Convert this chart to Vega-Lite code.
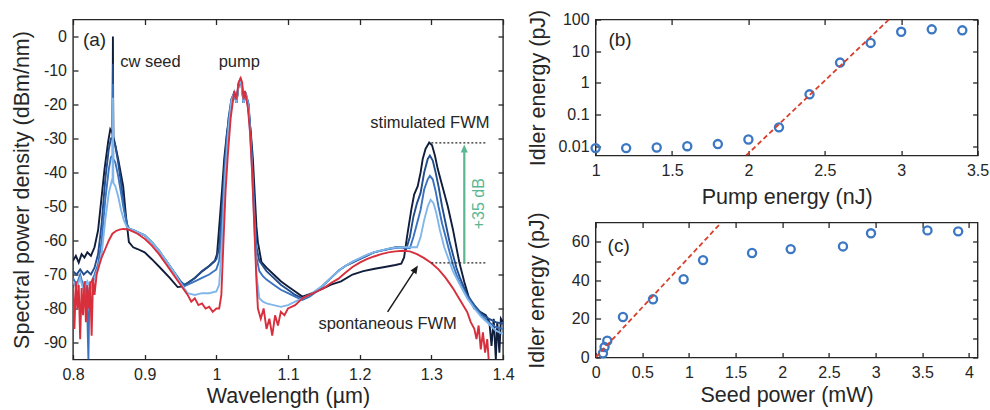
{
"$schema":"https://vega.github.io/schema/vega-lite/v6.json",
"padding":{"left":10,"top":8.5,"right":5,"bottom":5},
"config":{"font":"Liberation Sans","view":{"stroke":"#262626","strokeWidth":1.4},
"axis":{"domain":false,"grid":false,"tickSize":-5,"tickColor":"#262626","tickWidth":1.3,"labelFont":"Liberation Sans","labelFontSize":16,"labelColor":"#262626","titleFont":"Liberation Sans","titleFontSize":21.5,"titleFontWeight":"normal","titleColor":"#262626","labelFlush":false,"labelOverlap":false},
"axisBottom":{"labelPadding":12},"axisLeft":{"labelPadding":11.5}},
"datasets":{
"spectra":[
{"s":"high seed","x":0.800,"y":-66},{"s":"high seed","x":0.804,"y":-64.5},{"s":"high seed","x":0.808,"y":-66.5},{"s":"high seed","x":0.812,"y":-64},{"s":"high seed","x":0.816,"y":-65},{"s":"high seed","x":0.820,"y":-63.5},{"s":"high seed","x":0.825,"y":-64.5},{"s":"high seed","x":0.830,"y":-62},{"s":"high seed","x":0.835,"y":-57},{"s":"high seed","x":0.839,"y":-49},{"s":"high seed","x":0.844,"y":-39},{"s":"high seed","x":0.849,"y":-31},{"s":"high seed","x":0.852,"y":-27.3},{"s":"high seed","x":0.8552,"y":-28.5},{"s":"high seed","x":0.8557,"y":0},{"s":"high seed","x":0.8562,"y":-29.5},{"s":"high seed","x":0.858,"y":-31},{"s":"high seed","x":0.863,"y":-36},{"s":"high seed","x":0.870,"y":-44},{"s":"high seed","x":0.874,"y":-53},{"s":"high seed","x":0.878,"y":-60.5},{"s":"high seed","x":0.884,"y":-62},{"s":"high seed","x":0.890,"y":-62.5},{"s":"high seed","x":0.900,"y":-63.5},{"s":"high seed","x":0.910,"y":-65.5},{"s":"high seed","x":0.923,"y":-68.3},{"s":"high seed","x":0.935,"y":-71},{"s":"high seed","x":0.946,"y":-73.7},{"s":"high seed","x":0.953,"y":-73.5},{"s":"high seed","x":0.960,"y":-72.5},{"s":"high seed","x":0.970,"y":-71},{"s":"high seed","x":0.979,"y":-69.3},{"s":"high seed","x":0.990,"y":-67.5},{"s":"high seed","x":0.998,"y":-66},{"s":"high seed","x":1.001,"y":-64},{"s":"high seed","x":1.004,"y":-56},{"s":"high seed","x":1.008,"y":-45},{"s":"high seed","x":1.011,"y":-36},{"s":"high seed","x":1.015,"y":-28},{"s":"high seed","x":1.019,"y":-23},{"s":"high seed","x":1.023,"y":-18},{"s":"high seed","x":1.025,"y":-16.5},{"s":"high seed","x":1.028,"y":-19.5},{"s":"high seed","x":1.031,"y":-14.5},{"s":"high seed","x":1.034,"y":-13},{"s":"high seed","x":1.036,"y":-14.5},{"s":"high seed","x":1.038,"y":-19.5},{"s":"high seed","x":1.040,"y":-16.5},{"s":"high seed","x":1.044,"y":-20},{"s":"high seed","x":1.048,"y":-28},{"s":"high seed","x":1.051,"y":-36},{"s":"high seed","x":1.054,"y":-48},{"s":"high seed","x":1.056,"y":-56},{"s":"high seed","x":1.058,"y":-60.5},{"s":"high seed","x":1.063,"y":-66.4},{"s":"high seed","x":1.070,"y":-68},{"s":"high seed","x":1.080,"y":-70},{"s":"high seed","x":1.090,"y":-72},{"s":"high seed","x":1.100,"y":-73.5},{"s":"high seed","x":1.110,"y":-75},{"s":"high seed","x":1.120,"y":-76.5},{"s":"high seed","x":1.130,"y":-75.8},{"s":"high seed","x":1.140,"y":-75},{"s":"high seed","x":1.150,"y":-74},{"s":"high seed","x":1.160,"y":-73},{"s":"high seed","x":1.174,"y":-72},{"s":"high seed","x":1.190,"y":-70},{"s":"high seed","x":1.205,"y":-69},{"s":"high seed","x":1.221,"y":-68.3},{"s":"high seed","x":1.235,"y":-67.8},{"s":"high seed","x":1.250,"y":-67.2},{"s":"high seed","x":1.258,"y":-66.8},{"s":"high seed","x":1.262,"y":-65},{"s":"high seed","x":1.266,"y":-59},{"s":"high seed","x":1.272,"y":-51},{"s":"high seed","x":1.276,"y":-46.5},{"s":"high seed","x":1.281,"y":-44},{"s":"high seed","x":1.285,"y":-40},{"s":"high seed","x":1.288,"y":-36},{"s":"high seed","x":1.292,"y":-33},{"s":"high seed","x":1.297,"y":-31.2},{"s":"high seed","x":1.301,"y":-32},{"s":"high seed","x":1.305,"y":-35},{"s":"high seed","x":1.309,"y":-39},{"s":"high seed","x":1.316,"y":-44.5},{"s":"high seed","x":1.323,"y":-50},{"s":"high seed","x":1.330,"y":-56.6},{"s":"high seed","x":1.339,"y":-66.4},{"s":"high seed","x":1.346,"y":-72.2},{"s":"high seed","x":1.352,"y":-76.5},{"s":"high seed","x":1.360,"y":-80},{"s":"high seed","x":1.368,"y":-81},{"s":"high seed","x":1.376,"y":-82},{"s":"high seed","x":1.381,"y":-84},{"s":"high seed","x":1.384,"y":-91},{"s":"high seed","x":1.387,"y":-83},{"s":"high seed","x":1.390,"y":-95},{"s":"high seed","x":1.392,"y":-84},{"s":"high seed","x":1.395,"y":-93},{"s":"high seed","x":1.397,"y":-83},{"s":"high seed","x":1.400,"y":-84},
{"s":"seed 3","x":0.800,"y":-69},{"s":"seed 3","x":0.805,"y":-70},{"s":"seed 3","x":0.810,"y":-68.5},{"s":"seed 3","x":0.815,"y":-70},{"s":"seed 3","x":0.820,"y":-69},{"s":"seed 3","x":0.825,"y":-70},{"s":"seed 3","x":0.830,"y":-68},{"s":"seed 3","x":0.835,"y":-64},{"s":"seed 3","x":0.840,"y":-55},{"s":"seed 3","x":0.845,"y":-42},{"s":"seed 3","x":0.850,"y":-33},{"s":"seed 3","x":0.853,"y":-30},{"s":"seed 3","x":0.8552,"y":-30},{"s":"seed 3","x":0.8557,"y":-8},{"s":"seed 3","x":0.8562,"y":-31},{"s":"seed 3","x":0.859,"y":-32},{"s":"seed 3","x":0.863,"y":-37},{"s":"seed 3","x":0.867,"y":-43},{"s":"seed 3","x":0.871,"y":-50},{"s":"seed 3","x":0.875,"y":-55},{"s":"seed 3","x":0.878,"y":-56.5},{"s":"seed 3","x":0.885,"y":-57},{"s":"seed 3","x":0.890,"y":-57.5},{"s":"seed 3","x":0.900,"y":-58.5},{"s":"seed 3","x":0.910,"y":-60.5},{"s":"seed 3","x":0.920,"y":-63},{"s":"seed 3","x":0.930,"y":-66},{"s":"seed 3","x":0.940,"y":-69},{"s":"seed 3","x":0.950,"y":-72},{"s":"seed 3","x":0.955,"y":-73},{"s":"seed 3","x":0.960,"y":-72.5},{"s":"seed 3","x":0.970,"y":-71},{"s":"seed 3","x":0.980,"y":-69},{"s":"seed 3","x":0.990,"y":-67.5},{"s":"seed 3","x":1.000,"y":-65.5},{"s":"seed 3","x":1.004,"y":-62},{"s":"seed 3","x":1.008,"y":-50},{"s":"seed 3","x":1.012,"y":-36},{"s":"seed 3","x":1.017,"y":-24},{"s":"seed 3","x":1.021,"y":-18.5},{"s":"seed 3","x":1.025,"y":-16.5},{"s":"seed 3","x":1.028,"y":-19.5},{"s":"seed 3","x":1.031,"y":-14},{"s":"seed 3","x":1.033,"y":-13},{"s":"seed 3","x":1.035,"y":-14},{"s":"seed 3","x":1.038,"y":-19.5},{"s":"seed 3","x":1.041,"y":-17},{"s":"seed 3","x":1.045,"y":-20},{"s":"seed 3","x":1.049,"y":-32},{"s":"seed 3","x":1.053,"y":-50},{"s":"seed 3","x":1.056,"y":-62},{"s":"seed 3","x":1.060,"y":-66},{"s":"seed 3","x":1.065,"y":-67.5},{"s":"seed 3","x":1.070,"y":-69},{"s":"seed 3","x":1.080,"y":-71},{"s":"seed 3","x":1.090,"y":-73},{"s":"seed 3","x":1.100,"y":-74.5},{"s":"seed 3","x":1.110,"y":-76},{"s":"seed 3","x":1.120,"y":-77},{"s":"seed 3","x":1.130,"y":-76},{"s":"seed 3","x":1.140,"y":-75},{"s":"seed 3","x":1.150,"y":-73},{"s":"seed 3","x":1.160,"y":-71},{"s":"seed 3","x":1.170,"y":-69},{"s":"seed 3","x":1.180,"y":-67.5},{"s":"seed 3","x":1.190,"y":-66.5},{"s":"seed 3","x":1.200,"y":-65.5},{"s":"seed 3","x":1.210,"y":-64.5},{"s":"seed 3","x":1.220,"y":-63.5},{"s":"seed 3","x":1.230,"y":-63},{"s":"seed 3","x":1.240,"y":-62.5},{"s":"seed 3","x":1.250,"y":-62},{"s":"seed 3","x":1.260,"y":-62},{"s":"seed 3","x":1.265,"y":-62.5},{"s":"seed 3","x":1.270,"y":-59},{"s":"seed 3","x":1.275,"y":-53},{"s":"seed 3","x":1.280,"y":-49},{"s":"seed 3","x":1.285,"y":-46},{"s":"seed 3","x":1.290,"y":-40},{"s":"seed 3","x":1.295,"y":-36},{"s":"seed 3","x":1.298,"y":-35},{"s":"seed 3","x":1.302,"y":-36.5},{"s":"seed 3","x":1.306,"y":-40},{"s":"seed 3","x":1.310,"y":-44},{"s":"seed 3","x":1.315,"y":-50},{"s":"seed 3","x":1.320,"y":-55},{"s":"seed 3","x":1.325,"y":-60},{"s":"seed 3","x":1.330,"y":-64},{"s":"seed 3","x":1.335,"y":-68},{"s":"seed 3","x":1.340,"y":-71},{"s":"seed 3","x":1.350,"y":-76},{"s":"seed 3","x":1.360,"y":-79},{"s":"seed 3","x":1.370,"y":-81.5},{"s":"seed 3","x":1.380,"y":-83},{"s":"seed 3","x":1.390,"y":-84},{"s":"seed 3","x":1.400,"y":-84.5},
{"s":"seed 2","x":0.800,"y":-71},{"s":"seed 2","x":0.805,"y":-73},{"s":"seed 2","x":0.810,"y":-70},{"s":"seed 2","x":0.815,"y":-74},{"s":"seed 2","x":0.818,"y":-72},{"s":"seed 2","x":0.820,"y":-82},{"s":"seed 2","x":0.8215,"y":-95},{"s":"seed 2","x":0.823,"y":-74},{"s":"seed 2","x":0.826,"y":-72},{"s":"seed 2","x":0.830,"y":-70},{"s":"seed 2","x":0.835,"y":-67},{"s":"seed 2","x":0.840,"y":-60},{"s":"seed 2","x":0.845,"y":-48},{"s":"seed 2","x":0.850,"y":-39},{"s":"seed 2","x":0.853,"y":-35.5},{"s":"seed 2","x":0.8552,"y":-35},{"s":"seed 2","x":0.8557,"y":-14},{"s":"seed 2","x":0.8562,"y":-36},{"s":"seed 2","x":0.859,"y":-37},{"s":"seed 2","x":0.863,"y":-41},{"s":"seed 2","x":0.867,"y":-46},{"s":"seed 2","x":0.871,"y":-51},{"s":"seed 2","x":0.875,"y":-55},{"s":"seed 2","x":0.878,"y":-56.5},{"s":"seed 2","x":0.885,"y":-57},{"s":"seed 2","x":0.890,"y":-57.5},{"s":"seed 2","x":0.900,"y":-58.5},{"s":"seed 2","x":0.910,"y":-60.5},{"s":"seed 2","x":0.920,"y":-63},{"s":"seed 2","x":0.930,"y":-66},{"s":"seed 2","x":0.940,"y":-69},{"s":"seed 2","x":0.950,"y":-72},{"s":"seed 2","x":0.955,"y":-73.5},{"s":"seed 2","x":0.960,"y":-73},{"s":"seed 2","x":0.970,"y":-72},{"s":"seed 2","x":0.980,"y":-71},{"s":"seed 2","x":0.990,"y":-70},{"s":"seed 2","x":1.000,"y":-68.5},{"s":"seed 2","x":1.004,"y":-66},{"s":"seed 2","x":1.008,"y":-55},{"s":"seed 2","x":1.012,"y":-38},{"s":"seed 2","x":1.017,"y":-25},{"s":"seed 2","x":1.021,"y":-18.5},{"s":"seed 2","x":1.025,"y":-16.5},{"s":"seed 2","x":1.028,"y":-19.5},{"s":"seed 2","x":1.031,"y":-14},{"s":"seed 2","x":1.033,"y":-12.8},{"s":"seed 2","x":1.035,"y":-14},{"s":"seed 2","x":1.038,"y":-19.5},{"s":"seed 2","x":1.041,"y":-16.5},{"s":"seed 2","x":1.045,"y":-20},{"s":"seed 2","x":1.049,"y":-34},{"s":"seed 2","x":1.053,"y":-52},{"s":"seed 2","x":1.056,"y":-65},{"s":"seed 2","x":1.060,"y":-69},{"s":"seed 2","x":1.065,"y":-70.5},{"s":"seed 2","x":1.070,"y":-71.5},{"s":"seed 2","x":1.080,"y":-73},{"s":"seed 2","x":1.090,"y":-74.5},{"s":"seed 2","x":1.100,"y":-75.5},{"s":"seed 2","x":1.110,"y":-76.5},{"s":"seed 2","x":1.120,"y":-77.5},{"s":"seed 2","x":1.130,"y":-76.5},{"s":"seed 2","x":1.140,"y":-75},{"s":"seed 2","x":1.150,"y":-73},{"s":"seed 2","x":1.160,"y":-71},{"s":"seed 2","x":1.170,"y":-69},{"s":"seed 2","x":1.180,"y":-67.5},{"s":"seed 2","x":1.190,"y":-66.3},{"s":"seed 2","x":1.200,"y":-65.3},{"s":"seed 2","x":1.210,"y":-64.3},{"s":"seed 2","x":1.220,"y":-63.5},{"s":"seed 2","x":1.230,"y":-63},{"s":"seed 2","x":1.240,"y":-62.5},{"s":"seed 2","x":1.250,"y":-62.2},{"s":"seed 2","x":1.260,"y":-62},{"s":"seed 2","x":1.270,"y":-62.3},{"s":"seed 2","x":1.275,"y":-59},{"s":"seed 2","x":1.280,"y":-55},{"s":"seed 2","x":1.285,"y":-51},{"s":"seed 2","x":1.290,"y":-45},{"s":"seed 2","x":1.295,"y":-42},{"s":"seed 2","x":1.298,"y":-41},{"s":"seed 2","x":1.302,"y":-42},{"s":"seed 2","x":1.306,"y":-45.5},{"s":"seed 2","x":1.310,"y":-50},{"s":"seed 2","x":1.315,"y":-55},{"s":"seed 2","x":1.320,"y":-59},{"s":"seed 2","x":1.325,"y":-63},{"s":"seed 2","x":1.330,"y":-67},{"s":"seed 2","x":1.335,"y":-70},{"s":"seed 2","x":1.340,"y":-72.5},{"s":"seed 2","x":1.350,"y":-76.5},{"s":"seed 2","x":1.360,"y":-79.5},{"s":"seed 2","x":1.370,"y":-82},{"s":"seed 2","x":1.380,"y":-84},{"s":"seed 2","x":1.390,"y":-85.5},{"s":"seed 2","x":1.400,"y":-86},
{"s":"low seed","x":0.800,"y":-72},{"s":"low seed","x":0.805,"y":-74},{"s":"low seed","x":0.810,"y":-71},{"s":"low seed","x":0.815,"y":-75},{"s":"low seed","x":0.820,"y":-72},{"s":"low seed","x":0.825,"y":-74},{"s":"low seed","x":0.830,"y":-71},{"s":"low seed","x":0.835,"y":-68},{"s":"low seed","x":0.840,"y":-64},{"s":"low seed","x":0.845,"y":-54},{"s":"low seed","x":0.850,"y":-46},{"s":"low seed","x":0.854,"y":-42.5},{"s":"low seed","x":0.8552,"y":-43},{"s":"low seed","x":0.8557,"y":-18},{"s":"low seed","x":0.8562,"y":-43},{"s":"low seed","x":0.859,"y":-44},{"s":"low seed","x":0.863,"y":-47},{"s":"low seed","x":0.867,"y":-51},{"s":"low seed","x":0.871,"y":-54},{"s":"low seed","x":0.875,"y":-56},{"s":"low seed","x":0.878,"y":-56.5},{"s":"low seed","x":0.885,"y":-57},{"s":"low seed","x":0.890,"y":-57.5},{"s":"low seed","x":0.900,"y":-58.5},{"s":"low seed","x":0.910,"y":-60.5},{"s":"low seed","x":0.920,"y":-63},{"s":"low seed","x":0.930,"y":-66},{"s":"low seed","x":0.940,"y":-69},{"s":"low seed","x":0.950,"y":-72.5},{"s":"low seed","x":0.955,"y":-74},{"s":"low seed","x":0.960,"y":-75.5},{"s":"low seed","x":0.970,"y":-76},{"s":"low seed","x":0.980,"y":-75.5},{"s":"low seed","x":0.990,"y":-75.5},{"s":"low seed","x":1.000,"y":-75},{"s":"low seed","x":1.004,"y":-73},{"s":"low seed","x":1.008,"y":-60},{"s":"low seed","x":1.012,"y":-42},{"s":"low seed","x":1.017,"y":-27},{"s":"low seed","x":1.021,"y":-19},{"s":"low seed","x":1.025,"y":-16.5},{"s":"low seed","x":1.028,"y":-19.5},{"s":"low seed","x":1.031,"y":-14},{"s":"low seed","x":1.033,"y":-12.8},{"s":"low seed","x":1.035,"y":-14},{"s":"low seed","x":1.038,"y":-19.5},{"s":"low seed","x":1.041,"y":-16.5},{"s":"low seed","x":1.045,"y":-21},{"s":"low seed","x":1.049,"y":-36},{"s":"low seed","x":1.053,"y":-55},{"s":"low seed","x":1.056,"y":-70},{"s":"low seed","x":1.060,"y":-77},{"s":"low seed","x":1.065,"y":-78},{"s":"low seed","x":1.070,"y":-78.5},{"s":"low seed","x":1.080,"y":-79},{"s":"low seed","x":1.090,"y":-79.5},{"s":"low seed","x":1.100,"y":-79},{"s":"low seed","x":1.110,"y":-78},{"s":"low seed","x":1.120,"y":-77},{"s":"low seed","x":1.130,"y":-76},{"s":"low seed","x":1.140,"y":-74.5},{"s":"low seed","x":1.150,"y":-73},{"s":"low seed","x":1.160,"y":-71},{"s":"low seed","x":1.170,"y":-69},{"s":"low seed","x":1.180,"y":-67.5},{"s":"low seed","x":1.190,"y":-66.2},{"s":"low seed","x":1.200,"y":-65.2},{"s":"low seed","x":1.210,"y":-64.2},{"s":"low seed","x":1.220,"y":-63.4},{"s":"low seed","x":1.230,"y":-62.9},{"s":"low seed","x":1.240,"y":-62.4},{"s":"low seed","x":1.250,"y":-62.1},{"s":"low seed","x":1.260,"y":-62},{"s":"low seed","x":1.270,"y":-62},{"s":"low seed","x":1.280,"y":-62},{"s":"low seed","x":1.285,"y":-59},{"s":"low seed","x":1.290,"y":-54},{"s":"low seed","x":1.295,"y":-50},{"s":"low seed","x":1.299,"y":-48},{"s":"low seed","x":1.303,"y":-49},{"s":"low seed","x":1.307,"y":-52},{"s":"low seed","x":1.312,"y":-57},{"s":"low seed","x":1.318,"y":-62},{"s":"low seed","x":1.325,"y":-66},{"s":"low seed","x":1.330,"y":-69},{"s":"low seed","x":1.340,"y":-73},{"s":"low seed","x":1.350,"y":-77},{"s":"low seed","x":1.360,"y":-80},{"s":"low seed","x":1.370,"y":-82.5},{"s":"low seed","x":1.380,"y":-84.5},{"s":"low seed","x":1.390,"y":-86.5},{"s":"low seed","x":1.400,"y":-87.5},
{"s":"no seed","x":0.800,"y":-74},{"s":"no seed","x":0.802,"y":-86},{"s":"no seed","x":0.804,"y":-72},{"s":"no seed","x":0.806,"y":-80},{"s":"no seed","x":0.808,"y":-73},{"s":"no seed","x":0.810,"y":-89},{"s":"no seed","x":0.812,"y":-74},{"s":"no seed","x":0.814,"y":-82},{"s":"no seed","x":0.816,"y":-72},{"s":"no seed","x":0.818,"y":-84},{"s":"no seed","x":0.820,"y":-73},{"s":"no seed","x":0.822,"y":-80},{"s":"no seed","x":0.824,"y":-72},{"s":"no seed","x":0.826,"y":-88},{"s":"no seed","x":0.828,"y":-71},{"s":"no seed","x":0.830,"y":-76},{"s":"no seed","x":0.833,"y":-70},{"s":"no seed","x":0.837,"y":-67},{"s":"no seed","x":0.840,"y":-65},{"s":"no seed","x":0.845,"y":-62.5},{"s":"no seed","x":0.850,"y":-60},{"s":"no seed","x":0.855,"y":-58},{"s":"no seed","x":0.860,"y":-57.2},{"s":"no seed","x":0.865,"y":-56.8},{"s":"no seed","x":0.870,"y":-56.6},{"s":"no seed","x":0.875,"y":-56.7},{"s":"no seed","x":0.880,"y":-57},{"s":"no seed","x":0.890,"y":-58},{"s":"no seed","x":0.900,"y":-59.5},{"s":"no seed","x":0.910,"y":-61.5},{"s":"no seed","x":0.920,"y":-64},{"s":"no seed","x":0.930,"y":-67},{"s":"no seed","x":0.940,"y":-70},{"s":"no seed","x":0.950,"y":-73},{"s":"no seed","x":0.960,"y":-76},{"s":"no seed","x":0.965,"y":-78},{"s":"no seed","x":0.970,"y":-77},{"s":"no seed","x":0.975,"y":-79},{"s":"no seed","x":0.980,"y":-78.5},{"s":"no seed","x":0.985,"y":-80},{"s":"no seed","x":0.990,"y":-79.5},{"s":"no seed","x":0.995,"y":-81},{"s":"no seed","x":1.000,"y":-80},{"s":"no seed","x":1.004,"y":-80},{"s":"no seed","x":1.007,"y":-76},{"s":"no seed","x":1.010,"y":-60},{"s":"no seed","x":1.013,"y":-45},{"s":"no seed","x":1.016,"y":-35},{"s":"no seed","x":1.020,"y":-24},{"s":"no seed","x":1.025,"y":-16},{"s":"no seed","x":1.028,"y":-18.5},{"s":"no seed","x":1.031,"y":-13.5},{"s":"no seed","x":1.034,"y":-12.2},{"s":"no seed","x":1.036,"y":-13.5},{"s":"no seed","x":1.038,"y":-18.5},{"s":"no seed","x":1.040,"y":-16},{"s":"no seed","x":1.044,"y":-21},{"s":"no seed","x":1.047,"y":-28},{"s":"no seed","x":1.050,"y":-40},{"s":"no seed","x":1.053,"y":-56},{"s":"no seed","x":1.056,"y":-72},{"s":"no seed","x":1.058,"y":-80},{"s":"no seed","x":1.062,"y":-83},{"s":"no seed","x":1.066,"y":-80},{"s":"no seed","x":1.070,"y":-86},{"s":"no seed","x":1.074,"y":-83},{"s":"no seed","x":1.078,"y":-88},{"s":"no seed","x":1.082,"y":-82},{"s":"no seed","x":1.086,"y":-85},{"s":"no seed","x":1.090,"y":-81},{"s":"no seed","x":1.095,"y":-82},{"s":"no seed","x":1.100,"y":-80},{"s":"no seed","x":1.110,"y":-79},{"s":"no seed","x":1.120,"y":-77},{"s":"no seed","x":1.130,"y":-76},{"s":"no seed","x":1.140,"y":-75},{"s":"no seed","x":1.150,"y":-74},{"s":"no seed","x":1.160,"y":-72.5},{"s":"no seed","x":1.170,"y":-71.3},{"s":"no seed","x":1.180,"y":-69.5},{"s":"no seed","x":1.190,"y":-67.8},{"s":"no seed","x":1.200,"y":-66.5},{"s":"no seed","x":1.210,"y":-65.5},{"s":"no seed","x":1.220,"y":-64.7},{"s":"no seed","x":1.230,"y":-64},{"s":"no seed","x":1.240,"y":-63.5},{"s":"no seed","x":1.250,"y":-63.2},{"s":"no seed","x":1.260,"y":-63},{"s":"no seed","x":1.270,"y":-63.2},{"s":"no seed","x":1.280,"y":-64},{"s":"no seed","x":1.290,"y":-65.2},{"s":"no seed","x":1.300,"y":-66.6},{"s":"no seed","x":1.310,"y":-68.5},{"s":"no seed","x":1.320,"y":-71},{"s":"no seed","x":1.330,"y":-74},{"s":"no seed","x":1.340,"y":-77.5},{"s":"no seed","x":1.350,"y":-81},{"s":"no seed","x":1.355,"y":-84},{"s":"no seed","x":1.360,"y":-86},{"s":"no seed","x":1.363,"y":-89},{"s":"no seed","x":1.366,"y":-85},{"s":"no seed","x":1.369,"y":-92},{"s":"no seed","x":1.372,"y":-87},{"s":"no seed","x":1.375,"y":-93},{"s":"no seed","x":1.378,"y":-89},{"s":"no seed","x":1.380,"y":-95}
],
"pumpscan":[{"x":1.0,"y":0.0089},{"x":1.2,"y":0.0089},{"x":1.4,"y":0.0093},{"x":1.6,"y":0.0102},{"x":1.8,"y":0.0119},{"x":2.0,"y":0.0166},{"x":2.2,"y":0.040},{"x":2.4,"y":0.44},{"x":2.6,"y":4.4},{"x":2.8,"y":18.3},{"x":3.0,"y":41},{"x":3.2,"y":49},{"x":3.4,"y":45.6}],
"seedscan":[{"x":0.079,"y":2.2},{"x":0.096,"y":5.4},{"x":0.125,"y":8.7},{"x":0.293,"y":21},{"x":0.615,"y":30.2},{"x":0.943,"y":40.6},{"x":1.151,"y":50.5},{"x":1.676,"y":54.2},{"x":2.09,"y":56.2},{"x":2.65,"y":57.6},{"x":2.95,"y":64.4},{"x":3.555,"y":65.9},{"x":3.884,"y":65.4}]
},
"hconcat":[
{"width":430,"height":340,
"layer":[
{"data":{"name":"spectra"},"mark":{"type":"line","strokeWidth":1.9,"clip":true},
"encoding":{
"x":{"field":"x","type":"quantitative","scale":{"domain":[0.8,1.4],"nice":false,"zero":false},"axis":{"title":"Wavelength (µm)","values":[0.8,0.9,1,1.1,1.2,1.3,1.4],"labelExpr":"datum.value + ''","titleY":26}},
"y":{"field":"y","type":"quantitative","scale":{"domain":[-95,5],"nice":false,"zero":false},"axis":{"title":"Spectral power density (dBm/nm)","values":[-90,-80,-70,-60,-50,-40,-30,-20,-10,0],"labelExpr":"datum.value + ''","titleX":-40}},
"color":{"field":"s","type":"nominal","scale":{"domain":["high seed","seed 3","seed 2","low seed","no seed"],"range":["#101d3b","#234d8c","#3a73c0","#80b6ea","#d72f3c"]},"legend":null}}},
{"data":{"values":[{"t":"(a)","x":0.83,"y":-1}]},"mark":{"type":"text","fontSize":19,"color":"#262626"},
"encoding":{
"x":{"field":"x","type":"quantitative","scale":{"domain":[0.8,1.4],"nice":false,"zero":false},"axis":{"orient":"top","values":[0.8,0.9,1,1.1,1.2,1.3,1.4],"labels":false,"title":null}},
"y":{"field":"y","type":"quantitative","scale":{"domain":[-95,5],"nice":false,"zero":false},"axis":{"orient":"right","values":[-90,-80,-70,-60,-50,-40,-30,-20,-10,0],"labels":false,"title":null}},
"text":{"field":"t"}}},
{"data":{"values":[{"t":"cw seed","x":0.908,"y":-7.5},{"t":"pump","x":1.032,"y":-7.5},{"t":"stimulated FWM","x":1.298,"y":-25.3},{"t":"spontaneous FWM","x":1.239,"y":-84.5}]},"mark":{"type":"text","fontSize":16.5,"color":"#262626"},
"encoding":{"x":{"field":"x","type":"quantitative","axis":null},"y":{"field":"y","type":"quantitative","axis":null},"text":{"field":"t"}}},
{"data":{"values":[{"x":1.3,"x2":1.378,"y":-31.3},{"x":1.3,"x2":1.378,"y":-66.6}]},"mark":{"type":"rule","strokeDash":[2,2],"color":"#262626","strokeWidth":1.3},
"encoding":{"x":{"field":"x","type":"quantitative","axis":null},"x2":{"field":"x2"},"y":{"field":"y","type":"quantitative","axis":null}}},
{"data":{"values":[{"x":1.346,"y":-66.6,"y2":-34}]},"mark":{"type":"rule","color":"#5ab792","strokeWidth":2.2},
"encoding":{"x":{"field":"x","type":"quantitative","axis":null},"y":{"field":"y","type":"quantitative","axis":null},"y2":{"field":"y2"}}},
{"data":{"values":[{"x":1.346,"y":-33.8}]},"mark":{"type":"point","shape":"M0,-1L0.5,0.15L-0.5,0.15Z","filled":true,"size":196,"color":"#5ab792","opacity":1},
"encoding":{"x":{"field":"x","type":"quantitative","axis":null},"y":{"field":"y","type":"quantitative","axis":null}}},
{"data":{"values":[{"t":"+35 dB","x":1.367,"y":-49.2}]},"mark":{"type":"text","fontSize":16,"angle":270,"color":"#5ab792"},
"encoding":{"x":{"field":"x","type":"quantitative","axis":null},"y":{"field":"y","type":"quantitative","axis":null},"text":{"field":"t"}}},
{"data":{"values":[{"x":1.239,"y":-81,"x2":1.2759,"y2":-69.1}]},"mark":{"type":"rule","color":"#1a1a1a","strokeWidth":1.5},
"encoding":{"x":{"field":"x","type":"quantitative","axis":null},"y":{"field":"y","type":"quantitative","axis":null},"x2":{"field":"x2"},"y2":{"field":"y2"}}},
{"data":{"values":[{"x":1.2759,"y":-69.1}]},"mark":{"type":"point","shape":"M0,-1L0.5,0.15L-0.5,0.15Z","filled":true,"size":196,"angle":33,"color":"#1a1a1a","opacity":1},
"encoding":{"x":{"field":"x","type":"quantitative","axis":null},"y":{"field":"y","type":"quantitative","axis":null}}}
],
"resolve":{"axis":{"x":"independent","y":"independent"}}},
{"vconcat":[
{"width":382,"height":136,
"layer":[
{"data":{"name":"pumpscan"},"mark":{"type":"point","shape":"circle","filled":false,"size":66,"strokeWidth":2.3,"color":"#3b77c3","opacity":1},
"encoding":{
"x":{"field":"x","type":"quantitative","scale":{"domain":[1,3.5],"nice":false,"zero":false},"axis":{"title":"Pump energy (nJ)","values":[1,1.5,2,2.5,3,3.5],"labelExpr":"datum.value + ''","titleY":31}},
"y":{"field":"y","type":"quantitative","scale":{"type":"log","domain":[0.0052,100],"nice":false},"axis":{"title":"Idler energy (pJ)","values":[0.01,0.1,1,10,100],"labelExpr":"datum.value + ''","titleX":-46}}}},
{"data":{"values":[{"x":1.985,"y":0.0052},{"x":2.92,"y":100}]},"mark":{"type":"line","strokeDash":[5,3],"strokeWidth":1.8,"color":"#d8402c","clip":true},
"encoding":{
"x":{"field":"x","type":"quantitative","scale":{"domain":[1,3.5],"nice":false,"zero":false},"axis":{"orient":"top","values":[1,1.5,2,2.5,3,3.5],"labels":false,"title":null}},
"y":{"field":"y","type":"quantitative","scale":{"type":"log","domain":[0.0052,100],"nice":false},"axis":{"orient":"right","values":[0.01,0.1,1,10,100],"labels":false,"title":null}}}},
{"data":{"values":[{"t":"(b)","x":1.16,"y":23}]},"mark":{"type":"text","fontSize":19,"color":"#262626"},
"encoding":{"x":{"field":"x","type":"quantitative","axis":null},"y":{"field":"y","type":"quantitative","axis":null},"text":{"field":"t"}}}
],
"resolve":{"axis":{"x":"independent","y":"independent"}}},
{"width":382,"height":135,
"layer":[
{"data":{"name":"seedscan"},"mark":{"type":"point","shape":"circle","filled":false,"size":66,"strokeWidth":2.3,"color":"#3b77c3","opacity":1},
"encoding":{
"x":{"field":"x","type":"quantitative","scale":{"domain":[0,4.092],"nice":false,"zero":false},"axis":{"title":"Seed power (mW)","values":[0,0.5,1,1.5,2,2.5,3,3.5,4],"labelExpr":"datum.value + ''","titleY":27.4}},
"y":{"field":"y","type":"quantitative","scale":{"domain":[0,70],"nice":false,"zero":false},"axis":{"title":"Idler energy (pJ)","values":[0,10,20,30,40,50,60],"labelExpr":"datum.value % 20 == 0 ? datum.value + '' : ''","titleX":-47.5}}}},
{"data":{"values":[{"x":0,"y":0},{"x":1.347,"y":70}]},"mark":{"type":"line","strokeDash":[5,3],"strokeWidth":1.8,"color":"#d8402c","clip":true},
"encoding":{
"x":{"field":"x","type":"quantitative","scale":{"domain":[0,4.092],"nice":false,"zero":false},"axis":{"orient":"top","values":[0,0.5,1,1.5,2,2.5,3,3.5,4],"labels":false,"title":null}},
"y":{"field":"y","type":"quantitative","scale":{"domain":[0,70],"nice":false,"zero":false},"axis":{"orient":"right","values":[0,10,20,30,40,50,60],"labels":false,"title":null}}}},
{"data":{"values":[{"t":"(c)","x":0.247,"y":57.8}]},"mark":{"type":"text","fontSize":19,"color":"#262626"},
"encoding":{"x":{"field":"x","type":"quantitative","axis":null},"y":{"field":"y","type":"quantitative","axis":null},"text":{"field":"t"}}}
],
"resolve":{"axis":{"x":"independent","y":"independent"}}}
],"spacing":67,"bounds":"flush"}
],
"spacing":92.6,"bounds":"flush"
}
